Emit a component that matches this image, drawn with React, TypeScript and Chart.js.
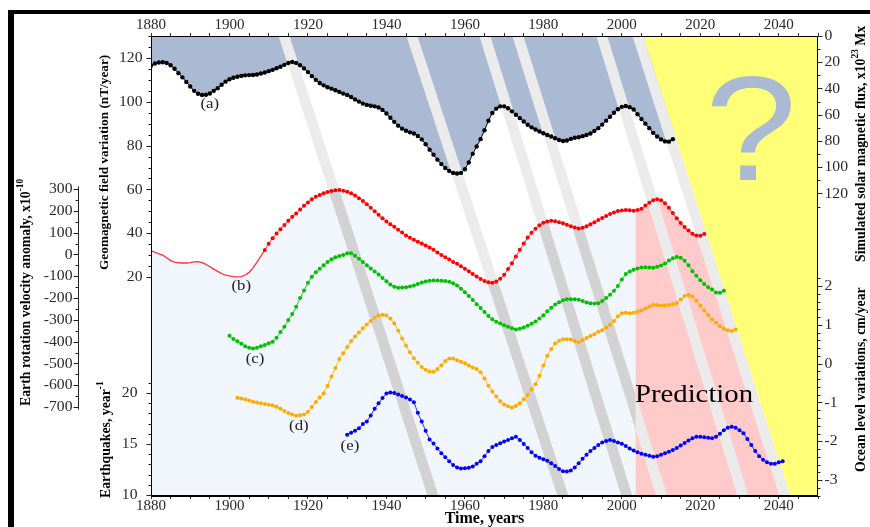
import React, { useEffect, useRef } from "react";
import { Chart, registerables } from "chart.js";

Chart.register(...registerables);

const SERIF = "'Liberation Serif', 'Times New Roman', serif";
const SANS = "'Liberation Sans', Arial, sans-serif";

// ---------- x axis ----------
const yearMin = 1880;
const yearMax = 2050;
const yearLabels = [1880, 1900, 1920, 1940, 1960, 1980, 2000, 2020, 2040];
const yearMinorStep = 5;

// ---------- (a) simulated solar magnetic flux, x10^23 Mx (right axis, reversed) ----------
const aStartYear = 1880;
const aSolarFlux = [
  22.6, 21.0, 20.2, 20.0, 20.6, 22.3, 25.0, 28.3, 31.5, 35.0,
  38.5, 41.8, 44.0, 45.0, 44.8, 43.8, 41.8, 39.8, 37.2, 34.8,
  33.0, 31.8, 31.0, 30.4, 30.0, 29.8, 29.7, 29.3, 28.6, 27.8,
  26.8, 25.8, 24.6, 23.4, 22.0, 20.6, 19.8, 20.5, 22.3, 24.7,
  27.5, 30.6, 33.4, 35.8, 37.6, 39.0, 40.1, 41.3, 42.6, 43.9,
  45.0, 46.5, 48.3, 50.0, 51.5, 52.5, 53.1, 53.6, 54.5, 56.3,
  59.0, 62.3, 65.4, 68.3, 70.6, 72.2, 73.4, 74.3, 76.2, 78.8,
  82.5, 86.6, 90.4, 94.2, 97.6, 100.6, 102.8, 104.3, 104.8, 104.3,
  101.5, 96.4, 89.8, 84.2, 78.6, 71.8, 64.6, 58.7, 55.3, 53.6,
  53.6, 55.0, 57.4, 60.0, 62.6, 65.2, 67.6, 69.6, 71.3, 72.8,
  74.1, 75.4, 76.6, 77.9, 79.2, 80.0, 79.6, 78.4, 77.5, 77.1,
  76.3, 75.4, 74.3, 72.3, 70.2, 67.5, 64.5, 61.5, 58.5, 55.8,
  54.0, 53.3, 54.2, 56.0, 59.6, 63.2, 66.8, 70.2, 73.8, 76.6,
  78.8, 80.3, 80.5, 78.6,
];

// ---------- (b) geomagnetic field variation, nT/year ----------
const bStartYear = 1880;
const bMarkersFrom = 1909;
const bGeomagnetic = [
  32.0, 31.3, 30.6, 30.0, 28.8, 27.5, 26.8, 26.5, 26.4, 26.4,
  26.6, 26.9, 27.0, 26.6, 25.8, 24.7, 23.6, 22.6, 21.6, 20.9,
  20.5, 20.2, 20.1, 20.2, 20.9, 22.1, 24.2, 26.8, 29.6, 32.3,
  35.2, 37.7, 39.9, 41.8, 43.8, 45.7, 47.5, 49.0, 50.8, 52.5,
  54.0, 55.5, 56.6, 57.5, 58.2, 58.8, 59.3, 59.6, 59.7, 59.4,
  58.9, 58.2, 57.2, 56.0, 54.7, 53.2, 51.6, 50.0, 48.4, 46.8,
  45.4, 44.1, 42.9, 41.6, 40.3, 39.0, 37.9, 37.0, 36.1, 35.3,
  34.4, 33.5, 32.4, 31.2, 30.1, 29.0, 28.0, 26.9, 26.0, 24.9,
  23.8, 22.6, 21.4, 20.2, 19.1, 18.2, 17.6, 17.4, 18.0, 19.2,
  21.0, 23.6, 26.3, 29.4, 32.4, 35.3, 38.0, 40.2, 42.0, 43.6,
  44.8, 45.4, 45.7, 45.5, 45.0, 44.6, 43.9, 43.2, 42.6, 42.2,
  42.5, 43.2, 44.1, 45.0, 46.0, 46.9, 47.9, 48.8, 49.5, 50.1,
  50.4, 50.6, 50.5, 50.3, 50.6, 51.2, 52.6, 53.9, 55.0, 55.5,
  55.0, 53.7, 51.6, 49.2, 46.8, 44.7, 42.8, 41.2, 39.8, 38.9,
  38.8, 39.6,
];

// ---------- (c) Earth rotation velocity anomaly, x10^-10 ----------
const cStartYear = 1900;
const cRotation = [
  -373, -388, -398, -410, -421, -428, -431, -428, -421, -415,
  -407, -401, -382, -356, -332, -301, -273, -240, -200, -165,
  -130, -102, -82, -66, -50, -35, -22, -13, -7, -2,
  5, 6, -6, -20, -35, -50, -64, -78, -92, -108,
  -123, -138, -148, -153, -152, -150, -147, -142, -136, -129,
  -124, -121, -120, -120, -121, -122, -125, -132, -142, -157,
  -173, -191, -209, -228, -246, -264, -282, -297, -309, -317,
  -325, -332, -339, -344, -341, -335, -327, -318, -308, -294,
  -279, -261, -245, -230, -219, -210, -206, -205, -205, -208,
  -214, -220, -224, -225, -224, -214, -200, -185, -166, -145,
  -115, -90, -78, -70, -65, -60, -59, -60, -61, -57,
  -51, -42, -28, -17, -12, -15, -29, -49, -77, -98,
  -118, -136, -150, -161, -174, -176, -167,
];

// ---------- (d) ocean level variations, cm/year ----------
const dStartYear = 1902;
const dOcean = [
  -0.88, -0.90, -0.92, -0.95, -0.98, -1.00, -1.02, -1.04,
  -1.06, -1.08, -1.11, -1.16, -1.22, -1.27, -1.31, -1.34, -1.33, -1.31,
  -1.24, -1.12, -0.99, -0.87, -0.76, -0.57, -0.33, -0.11, 0.12, 0.27,
  0.43, 0.58, 0.70, 0.80, 0.91, 1.01, 1.10, 1.18, 1.24, 1.26,
  1.24, 1.16, 1.04, 0.85, 0.65, 0.46, 0.29, 0.14, 0.02, -0.09,
  -0.16, -0.20, -0.21, -0.14, -0.04, 0.07, 0.13, 0.13, 0.09, 0.05,
  0.01, -0.05, -0.10, -0.14, -0.22, -0.38, -0.57, -0.72, -0.85, -0.97,
  -1.05, -1.10, -1.13, -1.09, -1.02, -0.92, -0.81, -0.66, -0.53, -0.31,
  -0.05, 0.20, 0.38, 0.52, 0.59, 0.63, 0.63, 0.62, 0.58, 0.55,
  0.60, 0.66, 0.71, 0.76, 0.82, 0.86, 0.93, 1.00, 1.10, 1.22,
  1.30, 1.31, 1.30, 1.31, 1.34, 1.37, 1.42, 1.47, 1.51, 1.51,
  1.50, 1.50, 1.51, 1.53, 1.56, 1.65, 1.74, 1.77, 1.73, 1.62,
  1.49, 1.37, 1.25, 1.14, 1.05, 0.96, 0.90, 0.86, 0.84, 0.88,
];

// ---------- (e) earthquakes, per year ----------
const eStartYear = 1930;
const eQuakes = [
  15.9, 16.1, 16.3, 16.55, 16.95, 17.2, 17.8, 18.45, 19.0, 19.5,
  19.95, 20.05, 20.0, 19.85, 19.7, 19.55, 19.35, 19.1, 18.05, 17.2,
  16.3, 15.45, 15.05, 14.55, 14.1, 13.7, 13.3, 12.95, 12.7, 12.6,
  12.62, 12.66, 12.8, 13.05, 13.3, 13.8, 14.3, 14.7, 14.9, 15.07,
  15.25, 15.4, 15.55, 15.7, 15.4, 15.0, 14.6, 14.2, 13.85, 13.65,
  13.5, 13.35, 13.1, 12.85, 12.55, 12.32, 12.3, 12.4, 12.7, 13.1,
  13.55, 13.95, 14.3, 14.6, 14.9, 15.15, 15.3, 15.39, 15.3, 15.15,
  15.02, 14.8, 14.55, 14.35, 14.2, 14.05, 13.95, 13.85, 13.75, 13.8,
  13.95, 14.1, 14.25, 14.4, 14.6, 14.85, 15.1, 15.35, 15.55, 15.7,
  15.7, 15.65, 15.6, 15.56, 15.7, 16.0, 16.35, 16.6, 16.7, 16.6,
  16.35, 16.05, 15.5, 14.9, 14.3, 13.8, 13.45, 13.2, 13.05, 13.05,
  13.2, 13.3,
];

// ---------- axis ticks ----------
const geoTicks = [20, 40, 60, 80, 100, 120];
const quakeTicks = [10, 15, 20];
const rotationTicks = [300, 200, 100, 0, -100, -200, -300, -400, -500, -600, -700];
const solarTicks = [0, 20, 40, 60, 80, 100, 120];
const oceanTicks = [2, 1, 0, -1, -2, -3];

// ---------- decorations (in data units) ----------
const predictionStart = 2003.5;
const stripeTopYears = [1913.9, 1946.5, 1965.1, 1973.5, 1994.9, 2004.1];
const stripeBottomYears = [1951.9, 1985.0, 2001.3, 2010.2, 2030.9, 2041.6];
const stripeWidthYears = 2.8;

const seriesLabels = [
  { text: "(a)", year: 1895.0, value: 51.8, axis: "ySolar" },
  { text: "(b)", year: 1903.0, value: 15.9, axis: "yGeo" },
  { text: "(c)", year: 1906.5, value: -480, axis: "yRot" },
  { text: "(d)", year: 1917.7, value: -1.61, axis: "yOcean" },
  { text: "(e)", year: 1930.7, value: 14.8, axis: "yEq" },
];
const predictionLabel = { text: "Prediction", year: 2018.4, value: -0.99, axis: "yOcean" };
const questionLabel = { text: "?", year: 2032.9, value: 109.7, axis: "ySolar" };

// ---------- style / layout config ----------
const yAxesDraw = [
  { id: "yGeo", side: "left", offset: 0, ticks: geoTicks, minor: [20, 130, 5], gap: 9 },
  { id: "yEq", side: "left", offset: 0, ticks: quakeTicks, minor: [10, 21, 1], gap: 14 },
  { id: "yRot", side: "left", offset: 73, ticks: rotationTicks, minor: [-700, 300, 50], gap: 6, line: [-712, 312] },
  { id: "ySolar", side: "right", offset: 0, ticks: solarTicks, minor: [0, 130, 10], gap: 7 },
  { id: "yOcean", side: "right", offset: 0, ticks: oceanTicks, minor: [-3.4, 2.2, 0.2], gap: 7 },
];

const axisTitles = [
  { parts: [{ t: "Earth rotation velocity anomaly, x10" }, { t: "-10", sup: true }], x: 26, y: 406, size: 13.8 },
  { parts: [{ t: "Geomagnetic field variation (nT/year)" }], x: 105, y: 270, size: 13.3 },
  { parts: [{ t: "Earthquakes, year" }, { t: "-1", sup: true }], x: 106, y: 498, size: 13.8 },
  { parts: [{ t: "Simulated solar magnetic flux, x10" }, { t: "23", sup: true }, { t: " Mx" }], x: 861, y: 262, size: 13.8 },
  { parts: [{ t: "Ocean level variations, cm/year" }], x: 861, y: 472, size: 13.8 },
];

function toPoints(start: number, values: number[]) {
  return values.map((v, i) => ({ x: start + i, y: v }));
}

function hText(ctx: any, text: string, x: number, y: number, font: string, color: string, sx: number, align = "center", baseline = "middle") {
  ctx.save();
  ctx.translate(x, y);
  ctx.scale(sx, 1);
  ctx.font = font;
  ctx.fillStyle = color;
  ctx.textAlign = align;
  ctx.textBaseline = baseline;
  ctx.fillText(text, 0, 0);
  ctx.restore();
}

function vText(ctx: any, parts: any[], x: number, y: number, size: number) {
  ctx.save();
  ctx.translate(x, y);
  ctx.rotate(-Math.PI / 2);
  ctx.textAlign = "left";
  ctx.textBaseline = "middle";
  ctx.fillStyle = "#000";
  let off = 0;
  for (const p of parts) {
    const fs = p.sup ? size * 0.68 : size;
    ctx.font = `bold ${fs}px ${SERIF}`;
    ctx.fillText(p.t, off, p.sup ? -size * 0.42 : 0);
    off += ctx.measureText(p.t).width;
  }
  ctx.restore();
}

const decorPlugin = {
  id: "decor",
  beforeDatasetsDraw(chart: any) {
    const { ctx, chartArea: ca, scales } = chart;
    const xs = scales.x;
    const px = (yr: number) => xs.getPixelForValue(yr);
    const cut = px(predictionStart);
    const red = chart.getDatasetMeta(1).data;
    const n = stripeTopYears.length;
    const bTop = px(stripeTopYears[n - 1]);
    const bBot = px(stripeBottomYears[n - 1]);
    const hw = (px(yearMin + stripeWidthYears) - px(yearMin)) / 2;

    const regionPath = () => {
      ctx.beginPath();
      red.forEach((p: any, i: number) => (i ? ctx.lineTo(p.x, p.y) : ctx.moveTo(p.x, p.y)));
      ctx.lineTo(bBot, ca.bottom);
      ctx.lineTo(ca.left, ca.bottom);
      ctx.closePath();
    };
    const stripePath = (i: number) => {
      const t = px(stripeTopYears[i]);
      const b = px(stripeBottomYears[i]);
      ctx.beginPath();
      ctx.moveTo(t - hw, ca.top);
      ctx.lineTo(t + hw, ca.top);
      ctx.lineTo(b + hw, ca.bottom);
      ctx.lineTo(b - hw, ca.bottom);
      ctx.closePath();
    };

    ctx.save();
    ctx.save();
    ctx.beginPath();
    ctx.rect(ca.left, ca.top, cut - ca.left, ca.height);
    ctx.clip();
    regionPath();
    ctx.fillStyle = "#f1f6fd";
    ctx.fill();
    ctx.restore();
    ctx.save();
    ctx.beginPath();
    ctx.rect(cut, ca.top, ca.right - cut, ca.height);
    ctx.clip();
    regionPath();
    ctx.fillStyle = "#ffcaca";
    ctx.fill();
    ctx.restore();
    for (let i = 0; i < n; i++) {
      stripePath(i);
      ctx.fillStyle = "#ebebeb";
      ctx.fill();
    }
    ctx.save();
    ctx.beginPath();
    ctx.rect(ca.left, ca.top, cut - ca.left, ca.height);
    ctx.clip();
    regionPath();
    ctx.clip();
    for (let i = 0; i < n; i++) {
      stripePath(i);
      ctx.fillStyle = "#d2d2d2";
      ctx.fill();
    }
    ctx.restore();
    ctx.beginPath();
    ctx.moveTo(bTop + hw, ca.top);
    ctx.lineTo(ca.right, ca.top);
    ctx.lineTo(ca.right, ca.bottom);
    ctx.lineTo(bBot + hw, ca.bottom);
    ctx.closePath();
    ctx.fillStyle = "#ffff78";
    ctx.fill();
    hText(ctx, questionLabel.text, px(questionLabel.year), scales[questionLabel.axis].getPixelForValue(questionLabel.value),
      `148px ${SANS}`, "#a9bad2", 1.12, "center", "alphabetic");
    hText(ctx, predictionLabel.text, px(predictionLabel.year), scales[predictionLabel.axis].getPixelForValue(predictionLabel.value),
      `25px ${SERIF}`, "#000", 1.15, "center", "alphabetic");
    ctx.restore();
  },
  afterDatasetsDraw(chart: any) {
    const { ctx, scales } = chart;
    for (const l of seriesLabels) {
      hText(ctx, l.text, scales.x.getPixelForValue(l.year), scales[l.axis].getPixelForValue(l.value),
        `15px ${SERIF}`, "#222", 1.12);
    }
  },
  afterDraw(chart: any) {
    const { ctx, chartArea: ca, scales } = chart;
    ctx.save();
    ctx.strokeStyle = "#000";
    ctx.lineWidth = 1;
    ctx.strokeRect(Math.round(ca.left) + 0.5, Math.round(ca.top) + 0.5, Math.round(ca.width) - 1, Math.round(ca.height) - 1);
    for (const ax of yAxesDraw) {
      const s = scales[ax.id];
      const dir = ax.side === "left" ? -1 : 1;
      const x0 = (ax.side === "left" ? Math.round(ca.left) - ax.offset : Math.round(ca.right) - 1) + 0.5;
      ctx.strokeStyle = "#222";
      ctx.beginPath();
      if (ax.line) {
        ctx.moveTo(x0, s.getPixelForValue(ax.line[0]));
        ctx.lineTo(x0, s.getPixelForValue(ax.line[1]));
      }
      const [m0, m1, step] = ax.minor;
      for (let k = 0; ; k++) {
        const v = m0 + k * step;
        if (v > m1 + 1e-9) break;
        const y = Math.round(s.getPixelForValue(v)) + 0.5;
        ctx.moveTo(x0, y);
        ctx.lineTo(x0 + dir * 3, y);
      }
      for (const v of ax.ticks) {
        const y = Math.round(s.getPixelForValue(v)) + 0.5;
        ctx.moveTo(x0, y);
        ctx.lineTo(x0 + dir * 5, y);
      }
      ctx.stroke();
      for (const v of ax.ticks) {
        const y = s.getPixelForValue(v);
        hText(ctx, String(v), x0 + dir * ax.gap, y + 0.5, `14px ${SERIF}`, "#2a2a2a", 1.12, dir < 0 ? "right" : "left");
      }
    }
    for (const t of axisTitles) vText(ctx, t.parts, t.x, t.y, t.size);
    ctx.restore();
  },
};

function xAxis(position: string, height: number) {
  return {
    type: "linear",
    position,
    min: yearMin,
    max: yearMax,
    afterBuildTicks: (s: any) => {
      const t = [];
      for (let v = yearMin; v <= yearMax; v += yearMinorStep) t.push({ value: v });
      s.ticks = t;
    },
    afterFit: (s: any) => {
      s.height = height;
    },
    ticks: {
      autoSkip: false,
      maxRotation: 0,
      padding: 0,
      color: "#2a2a2a",
      font: { family: SERIF, size: 15, lineHeight: 1 },
      callback: (v: number) => (yearLabels.includes(v) ? String(v) : ""),
    },
    grid: { drawOnChartArea: false, drawTicks: true, tickLength: 3, tickColor: "#333", color: "#333" },
    border: { display: true, color: "#000", width: 1 },
  };
}

export default function App() {
  const ref = useRef<HTMLCanvasElement>(null);
  useEffect(() => {
    const dot = 2.0;
    const chart = new Chart(ref.current as HTMLCanvasElement, {
      type: "line",
      data: {
        datasets: [
          {
            label: "(a) solar magnetic flux",
            data: toPoints(aStartYear, aSolarFlux),
            yAxisID: "ySolar",
            borderColor: "#000",
            borderWidth: 1,
            backgroundColor: "#a9bad2",
            pointBackgroundColor: "#000",
            pointBorderWidth: 0,
            pointRadius: 2.2,
            fill: { value: 0 },
          },
          {
            label: "(b) geomagnetic field",
            data: toPoints(bStartYear, bGeomagnetic),
            yAxisID: "yGeo",
            borderColor: "rgba(255,0,0,0.8)",
            borderWidth: 1,
            pointBackgroundColor: "#ff0000",
            pointBorderWidth: 0,
            pointRadius: (c: any) => (c.raw && c.raw.x < bMarkersFrom ? 0 : dot),
            segment: {
              borderWidth: (c: any) => (c.p1.parsed.x <= bMarkersFrom ? 1.3 : 1),
            },
            fill: false,
          },
          {
            label: "(c) rotation",
            data: toPoints(cStartYear, cRotation),
            yAxisID: "yRot",
            borderColor: "rgba(0,190,0,0.8)",
            borderWidth: 1,
            pointBackgroundColor: "#00c000",
            pointBorderWidth: 0,
            pointRadius: dot,
            fill: false,
          },
          {
            label: "(d) ocean",
            data: toPoints(dStartYear, dOcean),
            yAxisID: "yOcean",
            borderColor: "rgba(255,170,0,0.85)",
            borderWidth: 1,
            pointBackgroundColor: "#ffaa00",
            pointBorderWidth: 0,
            pointRadius: dot,
            fill: false,
          },
          {
            label: "(e) earthquakes",
            data: toPoints(eStartYear, eQuakes),
            yAxisID: "yEq",
            borderColor: "rgba(0,0,255,0.8)",
            borderWidth: 1,
            pointBackgroundColor: "#0000ff",
            pointBorderWidth: 0,
            pointRadius: dot,
            fill: false,
          },
        ],
      },
      options: {
        responsive: false,
        maintainAspectRatio: false,
        animation: false,
        events: [],
        layout: { padding: { left: 151, right: 52, top: 14, bottom: 0 } },
        elements: { line: { tension: 0 } },
        plugins: {
          legend: { display: false },
          tooltip: { enabled: false },
          filler: { drawTime: "beforeDatasetsDraw" },
        },
        scales: {
          x: {
            ...xAxis("bottom", 31),
            title: {
              display: true,
              text: "Time, years",
              color: "#000",
              font: { family: SERIF, size: 16, weight: "bold", lineHeight: 1 },
              padding: { top: 0, bottom: 0 },
            },
          },
          x2: xAxis("top", 22),
          ySolar: { axis: "y", type: "linear", display: false, position: "right", min: 0, max: 350.5, reverse: true },
          yGeo: { axis: "y", type: "linear", display: false, position: "left", min: -80, max: 130.05 },
          yRot: { axis: "y", type: "linear", display: false, position: "left", min: -1108, max: 1002 },
          yOcean: { axis: "y", type: "linear", display: false, position: "right", min: -3.41, max: 8.44 },
          yEq: { axis: "y", type: "linear", display: false, position: "left", min: 9.9, max: 55 },
        },
      } as any,
      plugins: [decorPlugin as any],
    } as any);
    return () => chart.destroy();
  }, []);

  return (
    <div style={{ position: "fixed", left: 0, top: 0, width: 870, height: 527, background: "#fff", overflow: "hidden" }}>
      <canvas ref={ref} width={870} height={527} style={{ display: "block", width: 870, height: 527 }} />
      <div
        style={{
          position: "absolute",
          left: 8,
          top: 10,
          right: 0,
          bottom: 0,
          borderTop: "4px solid #000",
          borderLeft: "6px solid #000",
          pointerEvents: "none",
        }}
      />
    </div>
  );
}
